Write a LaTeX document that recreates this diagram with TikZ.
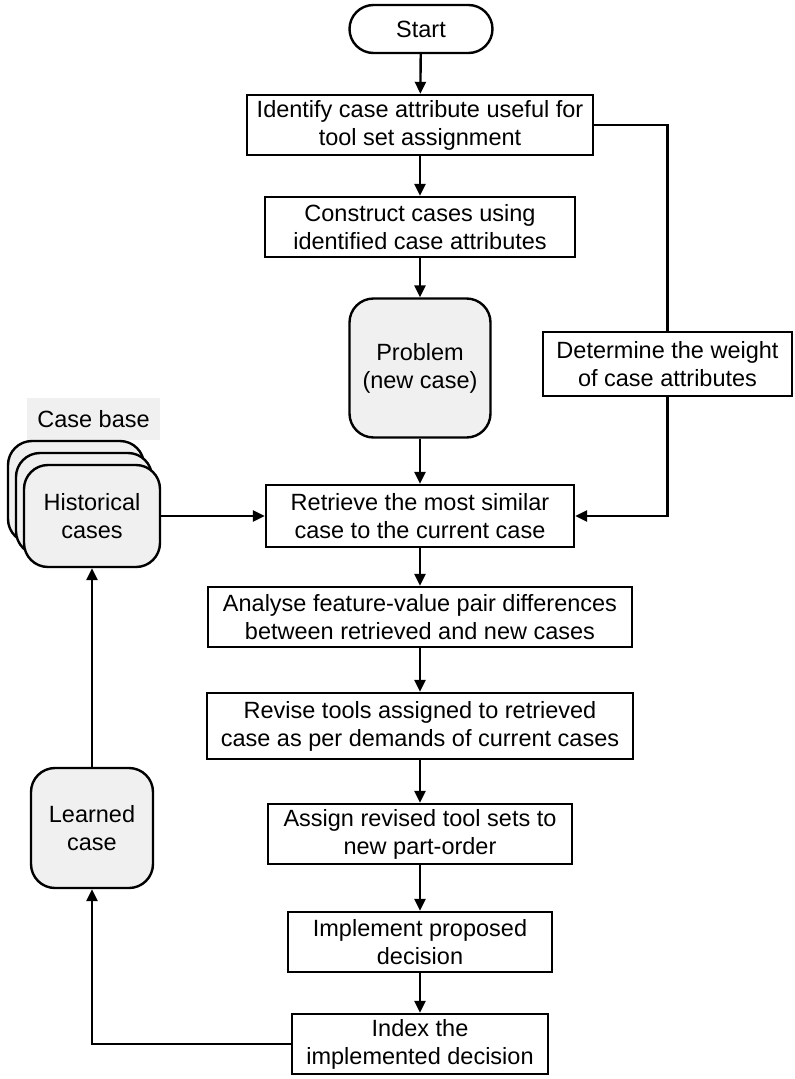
\documentclass[tikz,border=0pt]{standalone}
\usepackage{fontspec}
\setmainfont{Liberation Sans}
\usetikzlibrary{arrows.meta}

\begin{document}
\begin{tikzpicture}[x=1pt, y=-1pt,
    font=\fontsize{23.5}{28}\selectfont,
    every path/.style={line width=2.4pt},
    >={Triangle[length=12pt,width=11pt]},
    process/.style={draw, align=center, minimum height=60pt, inner sep=2pt},
    casebox/.style={draw, fill=black!6, rounded corners=24pt, align=center},
    terminal/.style={draw, rounded corners=24pt, minimum width=143pt, minimum height=48pt}]
    \useasboundingbox (0,0) rectangle (795,1079);

    % Main flow
    \node[terminal] (start) at (421,29) {Start};
    \node[process, minimum width=346pt] (identify) at (420,125) {Identify case attribute useful for\\tool set assignment};
    \node[process, minimum width=310pt] (construct) at (420,227) {Construct cases using\\identified case attributes};
    \node[casebox, minimum width=141pt, minimum height=139pt] (problem) at (420,368) {Problem\\(new case)};
    \node[process, minimum width=308pt, minimum height=62pt] (retrieve) at (420,516) {Retrieve the most similar\\case to the current case};
    \node[process, minimum width=424pt] (analyse) at (420,617) {Analyse feature-value pair differences\\between retrieved and new cases};
    \node[process, minimum width=426pt, minimum height=66pt] (revise) at (420,726) {Revise tools assigned to retrieved\\case as per demands of current cases};
    \node[process, minimum width=304pt] (assign) at (420,834) {Assign revised tool sets to\\new part-order};
    \node[process, minimum width=264pt] (implement) at (420,942) {Implement proposed\\decision};
    \node[process, minimum width=256pt] (index) at (420,1044) {Index the\\implemented decision};

    % Side branch
    \node[process, minimum width=249pt, minimum height=64pt] (weight) at (667.5,364) {Determine the weight\\of case attributes};

    % Case base
    \node[fill=black!6, minimum width=133pt, minimum height=42pt] (casebase) at (93.5,419) {Case base};
    \foreach \k in {2,1} {
        \node[casebox, minimum width=136pt, minimum height=102pt] (hist\k) at (92-8*\k,516-12*\k) {};
    }
    \node[casebox, minimum width=136pt, minimum height=102pt] (hist) at (92,516) {Historical\\cases};
    \node[casebox, minimum width=122pt, minimum height=120pt] (learned) at (92,828) {Learned\\case};

    % Connectors
    \draw[->] (start) -- (identify);
    \draw[->] (identify) -- (construct);
    \draw[->] (construct) -- (problem);
    \draw[->] (problem) -- (retrieve);
    \draw[->] (retrieve) -- (analyse);
    \draw[->] (analyse) -- (revise);
    \draw[->] (revise) -- (assign);
    \draw[->] (assign) -- (implement);
    \draw[->] (implement) -- (index);
    \draw (identify.east) -| (weight.north);
    \draw[->] (weight.south) |- (retrieve.east);
    \draw[->] (hist.east) -- (retrieve.west);
    \draw[->] (index.west) -| (learned.south);
    \draw[->] (learned.north) -- (hist.south);
\end{tikzpicture}
\end{document}
